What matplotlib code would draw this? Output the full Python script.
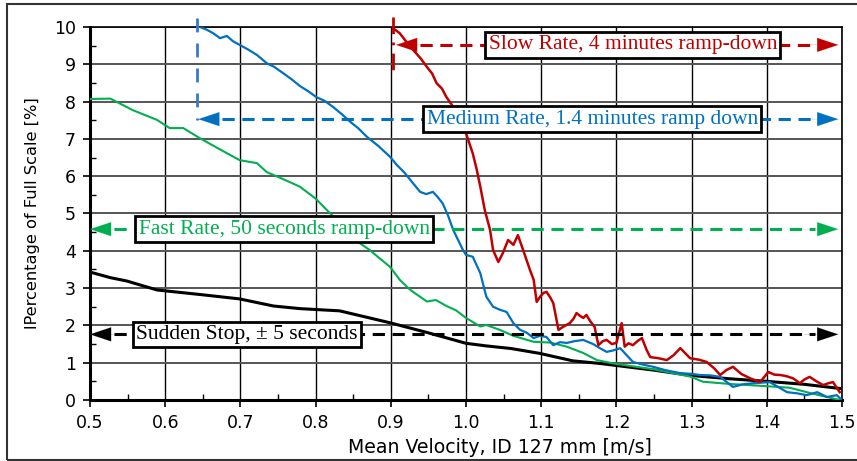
import matplotlib
matplotlib.use("Agg")
import matplotlib.pyplot as plt
from matplotlib.patches import Rectangle
from matplotlib.ticker import MultipleLocator, FormatStrFormatter

# ---------------- data ----------------
sudden_x = [0.50, 0.527, 0.549, 0.589, 0.65, 0.699, 0.744, 0.779, 0.832, 0.899, 0.95, 1.0, 1.027,
            1.06, 1.098, 1.142, 1.178, 1.25, 1.298, 1.35, 1.40, 1.45, 1.497]
sudden_y = [3.43, 3.28, 3.19, 2.95, 2.82, 2.71, 2.52, 2.45, 2.39, 2.07, 1.80, 1.52, 1.45,
            1.38, 1.25, 1.05, 0.98, 0.80, 0.66, 0.57, 0.50, 0.42, 0.31]

fast_x = [0.50, 0.527, 0.557, 0.589, 0.606, 0.624, 0.646, 0.67, 0.699, 0.722, 0.735, 0.757, 0.779,
          0.80, 0.819, 0.84, 0.859, 0.872, 0.885, 0.899, 0.912, 0.926, 0.948, 0.96, 0.974, 0.987,
          1.0, 1.019, 1.027, 1.045, 1.063, 1.09, 1.112, 1.134, 1.156, 1.174, 1.196, 1.25, 1.298,
          1.315, 1.351, 1.40, 1.43, 1.457, 1.497]
fast_y = [8.07, 8.08, 7.77, 7.51, 7.29, 7.29, 7.02, 6.75, 6.43, 6.35, 6.11, 5.92, 5.72,
          5.40, 5.01, 4.62, 4.20, 4.02, 3.80, 3.57, 3.22, 2.95, 2.64, 2.68, 2.52, 2.40,
          2.20, 1.97, 2.01, 1.88, 1.72, 1.56, 1.54, 1.43, 1.26, 1.07, 0.98, 0.82, 0.63,
          0.49, 0.43, 0.37, 0.33, 0.19, 0.0]

medium_x = [0.646, 0.655, 0.664, 0.673, 0.682, 0.69, 0.699, 0.71, 0.722, 0.735, 0.745, 0.757,
            0.768, 0.779, 0.79, 0.801, 0.812, 0.823, 0.835, 0.846, 0.857, 0.868, 0.884, 0.899,
            0.908, 0.918, 0.93, 0.939, 0.947, 0.956, 0.962, 0.969, 0.976, 0.983, 0.996, 1.0,
            1.009, 1.019, 1.027, 1.036, 1.045, 1.054, 1.063, 1.072, 1.081, 1.09, 1.098, 1.107,
            1.116, 1.125, 1.134, 1.145, 1.156, 1.169, 1.178, 1.187, 1.196, 1.205, 1.222, 1.235,
            1.249, 1.265, 1.285, 1.3, 1.311, 1.325, 1.338, 1.355, 1.368, 1.382, 1.404, 1.415,
            1.427, 1.44, 1.453, 1.467, 1.48, 1.493, 1.50]
medium_y = [10.0, 9.93, 9.83, 9.70, 9.76, 9.62, 9.52, 9.40, 9.25, 9.03, 8.93, 8.76,
            8.60, 8.42, 8.28, 8.12, 8.02, 7.86, 7.66, 7.46, 7.28, 7.06, 6.80, 6.52,
            6.30, 6.10, 5.80, 5.58, 5.52, 5.58, 5.45, 5.27, 4.95, 4.56, 4.02, 3.89,
            3.84, 3.40, 2.77, 2.50, 2.42, 2.36, 2.06, 1.88, 1.80, 1.66, 1.72, 1.69,
            1.47, 1.55, 1.53, 1.58, 1.61, 1.50, 1.39, 1.29, 1.33, 1.39, 1.02, 0.95,
            0.89, 0.80, 0.72, 0.70, 0.67, 0.66, 0.62, 0.35, 0.42, 0.45, 0.48, 0.35,
            0.21, 0.18, 0.13, 0.21, 0.08, 0.13, 0.0]

slow_x = [0.903, 0.912, 0.92, 0.93, 0.94, 0.948, 0.955, 0.961, 0.968, 0.974, 0.983, 0.992, 1.0,
          1.009, 1.014, 1.019, 1.025, 1.032, 1.036, 1.043, 1.049, 1.056, 1.063, 1.069, 1.076,
          1.085, 1.09, 1.094, 1.099, 1.103, 1.107, 1.112, 1.116, 1.123, 1.129, 1.138, 1.143,
          1.147, 1.152, 1.156, 1.16, 1.165, 1.171, 1.176, 1.182, 1.187, 1.194, 1.20, 1.207,
          1.211, 1.216, 1.222, 1.228, 1.234, 1.24, 1.245, 1.256, 1.267, 1.276, 1.285, 1.298,
          1.31, 1.32, 1.33, 1.338, 1.346, 1.355, 1.366, 1.378, 1.391, 1.402, 1.41, 1.418,
          1.426, 1.435, 1.444, 1.45, 1.457, 1.466, 1.475, 1.482, 1.488, 1.497]
slow_y = [9.97, 9.83, 9.62, 9.38, 9.15, 8.93, 8.75, 8.49, 8.35, 8.12, 7.86, 7.55, 7.15,
          6.61, 6.20, 5.72, 5.09, 4.56, 4.02, 3.70, 3.94, 4.29, 4.16, 4.42, 4.02,
          3.49, 3.22, 2.63, 2.78, 2.87, 2.90, 2.75, 2.60, 1.88, 1.96, 2.06, 2.18,
          2.33, 2.25, 2.20, 2.28, 2.12, 1.96, 1.47, 1.58, 1.61, 1.50, 1.53, 2.06,
          1.43, 1.52, 1.47, 1.58, 1.66, 1.35, 1.15, 1.12, 1.07, 1.20, 1.39, 1.12,
          1.08, 1.02, 0.85, 0.67, 0.80, 0.89, 0.70, 0.58, 0.48, 0.75, 0.68, 0.67,
          0.64, 0.58, 0.45, 0.55, 0.62, 0.50, 0.40, 0.45, 0.48, 0.21]

RED = "#C00000"
BLUE = "#0070C0"
GREEN = "#00B050"
BLACK = "#000000"

# ---------------- figure ----------------
fig = plt.figure(figsize=(8.57, 4.61), dpi=100)
ax = fig.add_axes([90/857, 61/461, 752/857, 373/461])

# outer frame
fig.patches.append(Rectangle((7/857, 1.5/461), 860/857, 455/461, transform=fig.transFigure,
                             fill=False, edgecolor="#333333", linewidth=1.5))

ax.set_xlim(0.5, 1.5)
ax.set_ylim(0, 10)
ax.xaxis.set_major_locator(MultipleLocator(0.1))
ax.xaxis.set_minor_locator(MultipleLocator(0.05))
ax.yaxis.set_major_locator(MultipleLocator(1))
ax.yaxis.set_minor_locator(MultipleLocator(0.5))
ax.xaxis.set_major_formatter(FormatStrFormatter("%.1f"))

ax.grid(True, which="major", axis="x", color="black", linewidth=1.0)
ax.grid(True, which="major", axis="y", color="#555555", linewidth=1.4)
ax.set_axisbelow(True)

for s in ["left", "bottom"]:
    ax.spines[s].set_linewidth(2.2)
for s in ["top", "right"]:
    ax.spines[s].set_linewidth(1.2)

ax.tick_params(which="major", direction="out", length=5, width=1.2,
               labelsize=12.5, pad=5)
ax.tick_params(which="minor", direction="in", length=4, width=1.0)
for lab in ax.get_xticklabels() + ax.get_yticklabels():
    lab.set_fontfamily("DejaVu Sans")

ax.set_xlabel("Mean Velocity, ID 127 mm [m/s]", fontsize=13.6, family="DejaVu Sans")
ax.xaxis.set_label_coords(0.545, -0.127)
ax.xaxis.label.set_va("center")
ax.set_ylabel("lPercentage of Full Scale [%]", fontsize=11.7, family="DejaVu Sans", labelpad=10)

# curves
ax.plot(sudden_x, sudden_y, color=BLACK, linewidth=2.2, zorder=4)
ax.plot(fast_x, fast_y, color=GREEN, linewidth=1.5, zorder=4)
ax.plot(medium_x, medium_y, color=BLUE, linewidth=1.6, zorder=5)
ax.plot(slow_x, slow_y, color=RED, linewidth=1.8, zorder=6)

# vertical markers
ax.plot([0.642, 0.642], [10.24, 7.52], color="#3A78C8", linewidth=2, linestyle=(0, (5, 4)),
        clip_on=False, zorder=6)
ax.plot([0.903, 0.903], [10.27, 8.71], color=RED, linewidth=2, linestyle=(0, (6, 3, 1, 3)),
        clip_on=False, zorder=6)


def double_arrow(x0, x1, y, color):
    hl = 0.045
    ax.plot([x0 + hl * 0.7, x1 - hl * 0.7], [y, y], color=color, linewidth=2.2,
            linestyle=(0, (4, 2.5)), zorder=7, clip_on=False)
    for tip, tail in [(x0, x0 + hl), (x1, x1 - hl)]:
        ax.annotate("", xy=(tip, y), xytext=(tail, y),
                    arrowprops=dict(arrowstyle="-|>,head_length=1.5,head_width=0.5",
                                    color=color, linewidth=0.1, shrinkA=0, shrinkB=0),
                    zorder=8, annotation_clip=False)


def label(xc, y, text, color):
    ax.text(xc, y, text, color=color, fontsize=15.5, family="Liberation Serif",
            ha="center", va="center", zorder=9,
            bbox=dict(boxstyle="square,pad=0.15", facecolor="white", edgecolor="black",
                      linewidth=2))


double_arrow(0.907, 1.495, 9.52, RED)
label(1.222, 9.52, "Slow Rate, 4 minutes ramp-down", RED)

double_arrow(0.644, 1.495, 7.53, BLUE)
label(1.168, 7.53, "Medium Rate, 1.4 minutes ramp down", BLUE)

double_arrow(0.5, 1.495, 4.58, GREEN)
label(0.758, 4.58, "Fast Rate, 50 seconds ramp-down", GREEN)

double_arrow(0.5, 1.495, 1.76, BLACK)
label(0.709, 1.76, "Sudden Stop, \u00b1 5 seconds", BLACK)

fig.savefig("out.png", dpi=100)
